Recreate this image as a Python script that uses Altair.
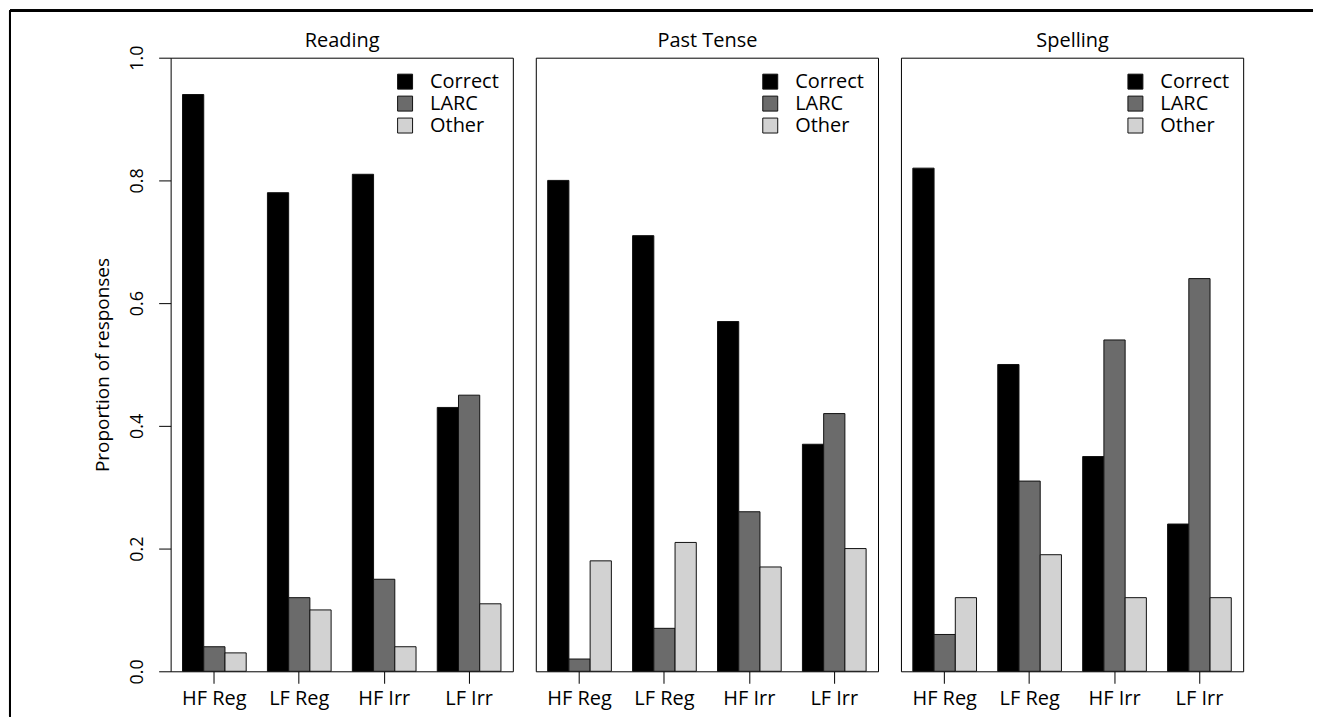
import altair as alt
import pandas as pd

tasks = ["Reading", "Past Tense", "Spelling"]
categories = ["HF Reg", "LF Reg", "HF Irr", "LF Irr"]
responses = ["Correct", "LARC", "Other"]

reading_correct = [0.94, 0.78, 0.81, 0.43]
reading_larc = [0.04, 0.12, 0.15, 0.45]
reading_other = [0.03, 0.10, 0.04, 0.11]

past_correct = [0.80, 0.71, 0.57, 0.37]
past_larc = [0.02, 0.07, 0.26, 0.42]
past_other = [0.18, 0.21, 0.17, 0.20]

spelling_correct = [0.82, 0.50, 0.35, 0.24]
spelling_larc = [0.06, 0.31, 0.54, 0.64]
spelling_other = [0.12, 0.19, 0.12, 0.12]

y_ticks = [0.0, 0.2, 0.4, 0.6, 0.8, 1.0]

series = {
    "Reading": [reading_correct, reading_larc, reading_other],
    "Past Tense": [past_correct, past_larc, past_other],
    "Spelling": [spelling_correct, spelling_larc, spelling_other],
}

rows = []
for t in tasks:
    for r, vals in zip(responses, series[t]):
        for c, v in zip(categories, vals):
            rows.append({"task": t, "cat": c, "resp": r, "value": v})
df = pd.DataFrame(rows)

FONT = "Open Sans"
W, H = 343, 615
XSCALE = alt.Scale(paddingInner=0.25, paddingOuter=0.14)


def panel(task, first):
    d = df[df.task == task]
    if first:
        yaxis = alt.Axis(
            values=y_ticks, format=".1f", title="Proportion of responses",
            titleFontSize=19, titleFontWeight="normal", titleFont=FONT,
            titleColor="black", titlePadding=16,
            labelAngle=270, labelAlign="center", labelBaseline="alphabetic",
            labelFontSize=18, labelFont=FONT, labelColor="black", labelPadding=16,
            tickSize=12, tickColor="black", tickWidth=1, domain=False, grid=False,
        )
    else:
        yaxis = None
    bars = alt.Chart(d).mark_bar(stroke="#111111", strokeWidth=1).encode(
        x=alt.X("cat:N", sort=categories, scale=XSCALE,
                axis=alt.Axis(orient="bottom", title=None, labelAngle=0, labelFontSize=20,
                              labelFont=FONT, labelColor="black", labelPadding=5, tickSize=12,
                              tickColor="black", tickWidth=1, domain=False, grid=False)),
        xOffset=alt.XOffset("resp:N", sort=responses,
                            scale=alt.Scale(paddingInner=0, paddingOuter=0)),
        y=alt.Y("value:Q", scale=alt.Scale(domain=[0, 1], nice=False, zero=True), axis=yaxis),
        color=alt.Color("resp:N",
                        scale=alt.Scale(domain=responses, range=["#000000", "#6b6b6b", "#d2d2d2"]),
                        legend=alt.Legend(orient="top-right", title=None, offset=14, padding=0,
                                          symbolType="square", symbolSize=225,
                                          symbolStrokeColor="#111111", symbolStrokeWidth=1,
                                          labelFontSize=20, labelFont=FONT, labelColor="black",
                                          labelOffset=15, rowPadding=2)),
    )
    # panel heading drawn as the title of a top axis on the same band scale
    heading = alt.Chart(d).mark_bar(opacity=0).encode(
        x=alt.X("cat:N", sort=categories, scale=XSCALE,
                axis=alt.Axis(orient="top", title=task, labels=False, ticks=False, domain=False,
                              grid=False, titleFontSize=20, titleFont=FONT,
                              titleFontWeight="normal", titleColor="black", titlePadding=7)),
    )
    layers = [bars, heading]
    if first:
        top_line = alt.Chart(d).mark_rule(color="black", strokeWidth=2).encode(
            x=alt.value(-161), x2=alt.value(1145), y=alt.value(-47))
        left_line = alt.Chart(d).mark_rule(color="black", strokeWidth=2).encode(
            x=alt.value(-161), y=alt.value(-47), y2=alt.value(660))
        layers += [top_line, left_line]
    return alt.layer(*layers).properties(width=W, height=H).resolve_axis(
        x="independent").resolve_scale(color="independent")


chart = alt.hconcat(
    panel("Reading", True), panel("Past Tense", False), panel("Spelling", False),
    spacing=23, bounds="flush",
).resolve_scale(color="independent", x="independent", y="independent").resolve_legend(
    color="independent"
).properties(padding=0).configure_view(stroke="black", strokeWidth=1)

chart.save("out.html", embed_options={"renderer": "svg", "actions": False})
